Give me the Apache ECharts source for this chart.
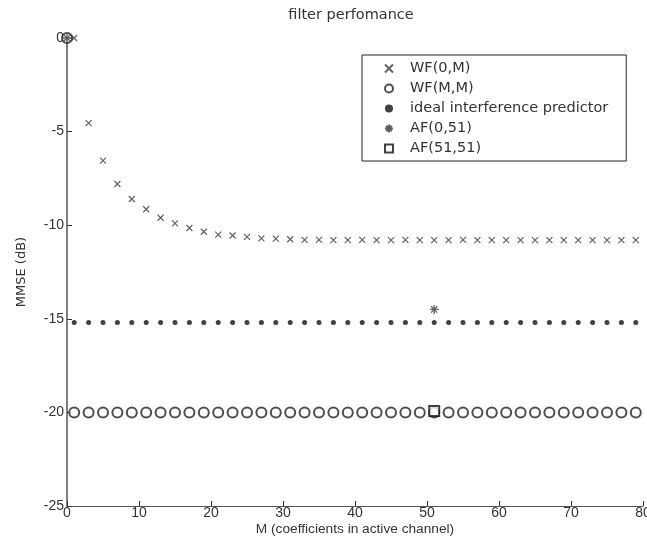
<!DOCTYPE html>
<html><head><meta charset="utf-8">
<script src="https://cdn.jsdelivr.net/npm/echarts@6/dist/echarts.min.js"></script>
<style>html,body{margin:0;padding:0;background:#fff}#c{width:647px;height:538px}</style>
</head><body><div id="c"></div>
<script>
const titleText = 'filter perfomance';
const xLabel = 'M (coefficients in active channel)';
const yLabel = 'MMSE (dB)';
const mOdd = [1,3,5,7,9,11,13,15,17,19,21,23,25,27,29,31,33,35,37,39,41,43,45,47,49,51,53,55,57,59,61,63,65,67,69,71,73,75,77,79];
const wf0M = [0,-4.55,-6.55,-7.8,-8.6,-9.15,-9.6,-9.9,-10.15,-10.35,-10.5,-10.55,-10.62,-10.7,-10.72,-10.75,-10.78,-10.78,-10.8,-10.8,-10.78,-10.8,-10.8,-10.78,-10.8,-10.8,-10.8,-10.78,-10.8,-10.8,-10.8,-10.8,-10.8,-10.8,-10.8,-10.8,-10.8,-10.8,-10.8,-10.8];
const wfMM = [-20,-20,-20,-20,-20,-20,-20,-20,-20,-20,-20,-20,-20,-20,-20,-20,-20,-20,-20,-20,-20,-20,-20,-20,-20,-20,-20,-20,-20,-20,-20,-20,-20,-20,-20,-20,-20,-20,-20,-20];
const ideal = [-15.2,-15.2,-15.2,-15.2,-15.2,-15.2,-15.2,-15.2,-15.2,-15.2,-15.2,-15.2,-15.2,-15.2,-15.2,-15.2,-15.2,-15.2,-15.2,-15.2,-15.2,-15.2,-15.2,-15.2,-15.2,-15.2,-15.2,-15.2,-15.2,-15.2,-15.2,-15.2,-15.2,-15.2,-15.2,-15.2,-15.2,-15.2,-15.2,-15.2];
const zeroM = [0];
const zeroVal = [0];
const af051M = [51];
const af051 = [-14.5];
const af5151M = [51];
const af5151 = [-19.93];
const seriesNames = ['WF(0,M)','WF(M,M)','ideal interference predictor','AF(0,51)','AF(51,51)'];

const pairs = (xs, ys) => xs.map((x,i)=>[x, ys[i]]);
const ink = '#3a3a3a';
const crossPath = 'path://M0,0L10,10M10,0L0,10';
const starPath = 'path://M5,0L5,10M0,5L10,5M1.5,1.5L8.5,8.5M8.5,1.5L1.5,8.5';
const font = 'Liberation Sans, Arial, sans-serif';
const wide = 'DejaVu Sans, sans-serif';

const chart = echarts.init(document.getElementById('c'), null, {renderer:'canvas'});
chart.setOption({
  animation:false,
  backgroundColor:'#fff',
  title:{text:titleText, left:346, top:3, textAlign:'center',
    textStyle:{fontFamily:wide, fontSize:14.5, fontWeight:'normal', color:'#333'}},
  grid:{left:67, right:4, top:38, bottom:32, containLabel:false, outerBoundsMode:'none'},
  legend:{
    orient:'vertical', left:362, top:55,
    padding:[6,18,5,22], itemGap:5, itemWidth:8, itemHeight:8,
    borderColor:'#222', borderWidth:1, backgroundColor:'#fff',
    textStyle:{fontFamily:wide, fontSize:14.5, lineHeight:14, color:'#333', padding:[0,0,0,12]},
    data:seriesNames
  },
  xAxis:{type:'value', min:0, max:80, interval:10,
    name:xLabel, nameLocation:'middle', nameGap:16, nameMoveOverlap:false,
    nameTextStyle:{fontFamily:font, fontSize:13.7, color:'#333'},
    axisLine:{onZero:false, lineStyle:{color:'#555', width:1}},
    axisTick:{inside:true, length:5, lineStyle:{color:'#333'}},
    axisLabel:{fontFamily:font, fontSize:14, color:'#333', margin:0},
    splitLine:{show:false}},
  yAxis:{type:'value', min:-25, max:0, interval:5,
    name:yLabel, nameLocation:'middle', nameGap:39, nameRotate:90, nameMoveOverlap:false,
    nameTextStyle:{fontFamily:wide, fontSize:13, color:'#333'},
    axisLine:{show:true, onZero:false, lineStyle:{color:'#555', width:1.5}},
    axisTick:{show:true, inside:true, length:5, lineStyle:{color:'#333'}},
    axisLabel:{fontFamily:font, fontSize:14, color:'#333', margin:3},
    splitLine:{show:false}},
  series:[
    {name:seriesNames[0], type:'scatter', symbol:crossPath, symbolSize:6,
      itemStyle:{color:'transparent', borderColor:ink, borderWidth:1.2},
      data:pairs(zeroM, zeroVal).concat(pairs(mOdd, wf0M))},
    {name:seriesNames[1], type:'scatter', symbol:'emptyCircle', symbolSize:10,
      itemStyle:{color:'#222', borderColor:'#222', borderWidth:1.2},
      data:pairs(zeroM, zeroVal).concat(pairs(mOdd, wfMM))},
    {name:seriesNames[2], type:'scatter', symbol:'circle', symbolSize:5,
      itemStyle:{color:'#111'},
      data:pairs(mOdd, ideal)},
    {name:seriesNames[3], type:'scatter', symbol:starPath, symbolSize:9,
      itemStyle:{color:'transparent', borderColor:ink, borderWidth:1.3},
      data:pairs(zeroM, zeroVal).concat(pairs(af051M, af051))},
    {name:seriesNames[4], type:'scatter', symbol:'emptyRect', symbolSize:10,
      itemStyle:{color:'#111', borderColor:'#111', borderWidth:1.5}, z:5,
      data:pairs(af5151M, af5151)}
  ]
});
</script></body></html>
